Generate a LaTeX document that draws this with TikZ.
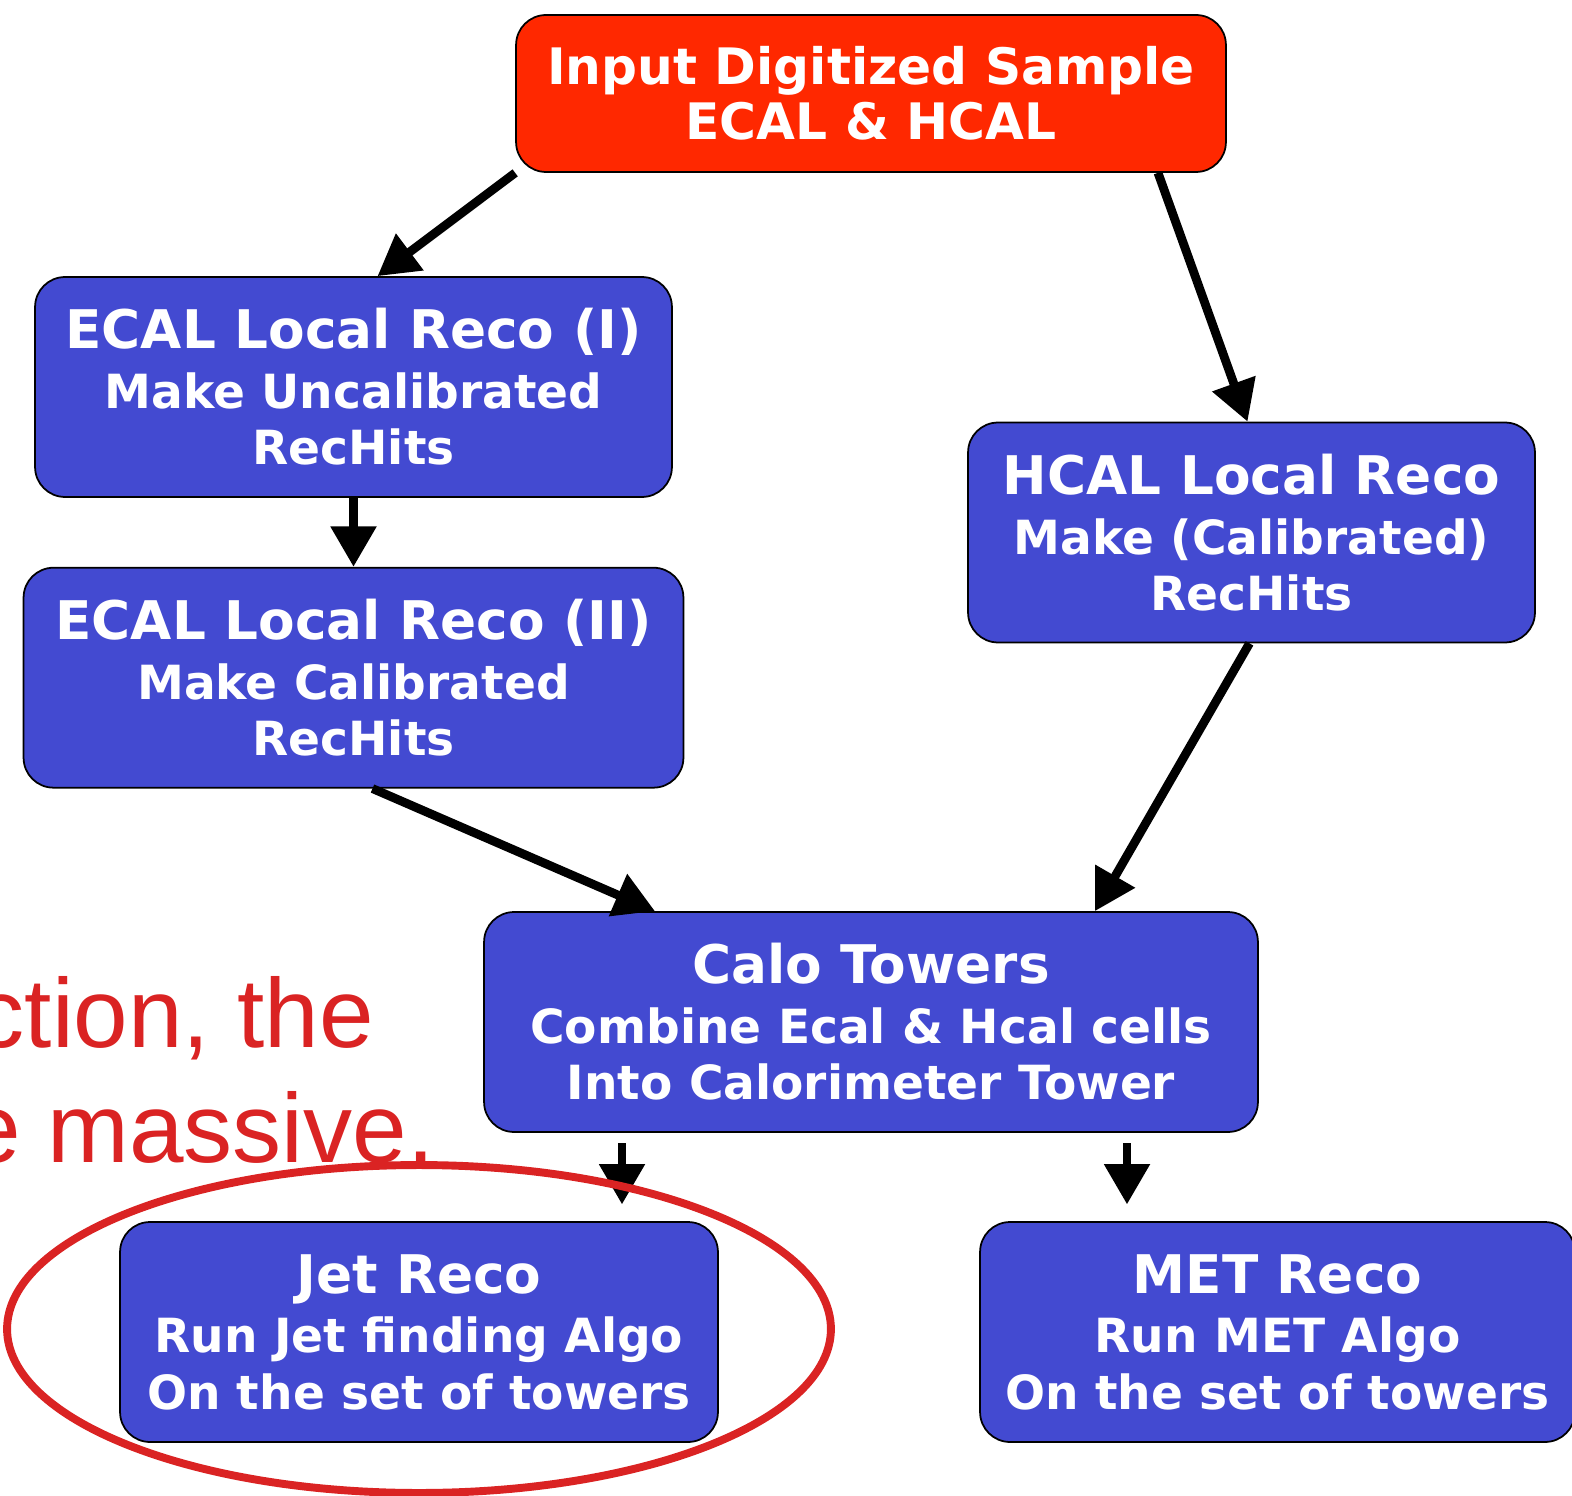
\documentclass[tikz,border=0pt]{standalone}
\usepackage{fontspec}
\usepackage{tikz}
\usepackage{xcolor}
\usetikzlibrary{shapes.misc, positioning, calc}
\usetikzlibrary{shapes.geometric, arrows.meta}
\newfontfamily\stagefont{DejaVu Sans}
\newfontfamily\slidefont{Liberation Sans}
\definecolor{inputred}{HTML}{FF2800}
\definecolor{recoblue}{HTML}{434AD1}
\definecolor{markred}{HTML}{DA2323}
\newcommand{\headline}[1]{{\fontsize{30.3}{34}\selectfont #1}}
\tikzstyle{stage} = [rectangle, rounded corners=0.6cm, minimum height=4.4cm, text centered, draw=black, line width=1pt, fill=recoblue, text=white, align=center, inner sep=0pt, font=\stagefont\bfseries\fontsize{26.8}{32}\selectfont]
\tikzstyle{source} = [stage, fill=inputred, minimum height=3.14cm, font=\stagefont\bfseries\fontsize{28.6}{31}\selectfont]
\tikzstyle{arrow} = [line width=5pt, -{Triangle[length=23pt,width=25pt]}]
\tikzstyle{remark} = [anchor=base east, inner sep=0pt, text=markred, font=\slidefont\fontsize{55.8}{66}\selectfont]

\begin{document}
\begin{tikzpicture}[x=0.02cm, y=-0.02cm]
    \useasboundingbox (0,0) rectangle (1572,1496);
    \clip (0,0) rectangle (1572,1496);

    \node (inp) [source, minimum width=14.2cm] at (871,93.5) {Input Digitized Sample\\ECAL \& HCAL};
    \node (ecal1) [stage, minimum width=12.74cm] at (353.5,387) {\headline{ECAL Local Reco (I)}\\[2pt]Make Uncalibrated\\RecHits};
    \node (ecal2) [stage, minimum width=13.2cm, below=1.38cm of ecal1] {\headline{ECAL Local Reco (II)}\\[2pt]Make Calibrated\\RecHits};
    \node (hcal) [stage, minimum width=11.34cm] at (1251.5,532.5) {\headline{HCAL Local Reco}\\[2pt]Make (Calibrated)\\RecHits};
    \node (calo) [stage, minimum width=15.48cm] at (871,1022) {\headline{Calo Towers}\\[2pt]Combine Ecal \& Hcal cells\\Into Calorimeter Tower};
    \node (jet) [stage, minimum width=11.96cm] at (419,1332) {\headline{Jet Reco}\\[2pt]Run Jet finding Algo\\On the set of towers};
    \node (met) [stage, minimum width=11.9cm] at (1277.5,1332) {\headline{MET Reco}\\[2pt]Run MET Algo\\On the set of towers};

    \draw[arrow] (inp.south west)--($(ecal1.north)+(24,0)$);
    \draw[arrow] ($(inp.south)+(287,0)$)--($(hcal.north)+(-4,0)$);
    \draw[arrow] (ecal1.south)--(ecal2.north);
    \draw[arrow] ($(ecal2.south)+(19,0)$)--($(calo.north)+(-216,0)$);
    \draw[arrow] ($(hcal.south)+(-2,0)$)--($(calo.north)+(224,0)$);
    \draw[arrow, shorten <=6pt, shorten >=9.5pt] ($(calo.south)+(-249,0)$)--($(jet.north)+(203,0)$);
    \draw[arrow, shorten <=6pt, shorten >=9.5pt] ($(calo.south)+(256,0)$)--($(met.north)+(-150.5,0)$);

    % slide text behind the chart
    \node (note1) [remark] at (374,1047) {ction, the};
    \node (note2) [remark] at (435,1162) {e massive.};
    \node (mark) [ellipse, draw=markred, line width=4.5pt, minimum width=16.48cm, minimum height=6.56cm] at (419,1329) {};

\end{tikzpicture}
\end{document}
